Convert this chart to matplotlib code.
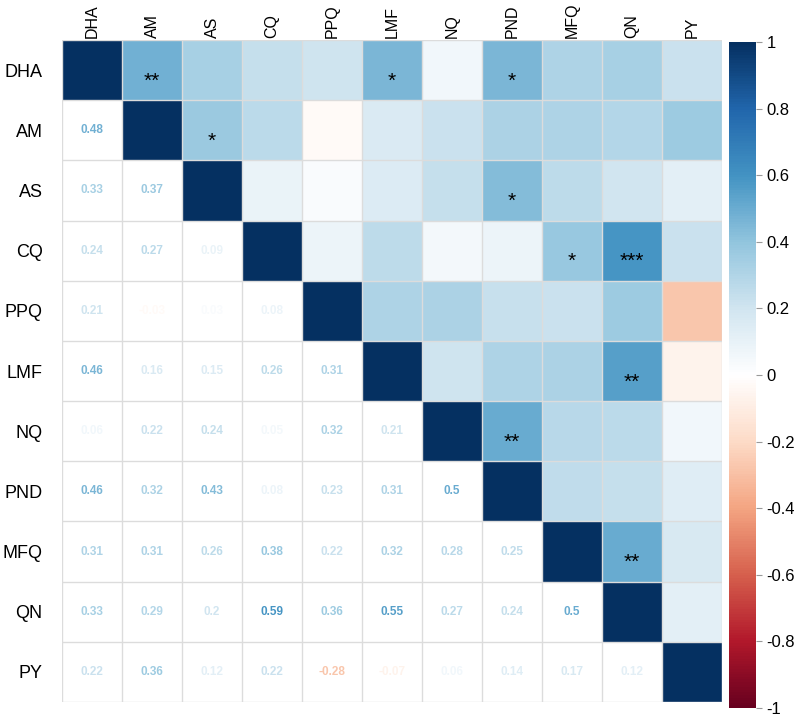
import numpy as np
import matplotlib.pyplot as plt
from matplotlib.colors import LinearSegmentedColormap
import matplotlib as mpl

plt.rcParams["font.family"] = ["Liberation Sans", "DejaVu Sans"]

labels = ["DHA", "AM", "AS", "CQ", "PPQ", "LMF", "NQ", "PND", "MFQ", "QN", "PY"]

# lower triangle, row by row (row i holds correlations with columns 0..i-1)
lower_rows = [
    [],
    [0.48],
    [0.33, 0.37],
    [0.24, 0.27, 0.09],
    [0.21, -0.03, 0.03, 0.08],
    [0.46, 0.16, 0.15, 0.26, 0.31],
    [0.06, 0.22, 0.24, 0.05, 0.32, 0.21],
    [0.46, 0.32, 0.43, 0.08, 0.23, 0.31, 0.5],
    [0.31, 0.31, 0.26, 0.38, 0.22, 0.32, 0.28, 0.25],
    [0.33, 0.29, 0.2, 0.59, 0.36, 0.55, 0.27, 0.24, 0.5],
    [0.22, 0.36, 0.12, 0.22, -0.28, -0.07, 0.06, 0.14, 0.17, 0.12],
]

# significance marks in the upper triangle: (row, col, stars)
stars = [
    ("DHA", "AM", "**"), ("DHA", "LMF", "*"), ("DHA", "PND", "*"),
    ("AM", "AS", "*"),
    ("AS", "PND", "*"),
    ("CQ", "MFQ", "*"), ("CQ", "QN", "***"),
    ("LMF", "QN", "**"),
    ("NQ", "PND", "**"),
    ("MFQ", "QN", "**"),
]

n = len(labels)
corr = np.eye(n)
for i, row in enumerate(lower_rows):
    for j, v in enumerate(row):
        corr[i, j] = v
        corr[j, i] = v

cmap = LinearSegmentedColormap.from_list("corrplot_rdbu", [
    "#67001F", "#B2182B", "#D6604D", "#F4A582", "#FDDBC7", "#FFFFFF",
    "#D1E5F0", "#92C5DE", "#4393C3", "#2166AC", "#053061"])
norm = mpl.colors.Normalize(vmin=-1, vmax=1)

fig = plt.figure(figsize=(8, 7.24), dpi=100)
ax = fig.add_axes([62 / 800, 1 - 702 / 724, 660 / 800, 662 / 724])

upper = np.ma.masked_where(np.tril(np.ones((n, n)), k=-1).astype(bool), corr)
ax.pcolormesh(np.arange(n + 1), np.arange(n + 1), upper, cmap=cmap, norm=norm)

# grid
for k in range(n + 1):
    ax.axhline(k, color="#dcdcdc", lw=1, zorder=1)
    ax.axvline(k, color="#dcdcdc", lw=1, zorder=1)

# numbers in lower triangle
for i, row in enumerate(lower_rows):
    for j, v in enumerate(row):
        ax.text(j + 0.5, i + 0.5, f"{v:g}", ha="center", va="center",
                fontsize=8.5, fontweight="bold", color=cmap(norm(v)), zorder=3)

# stars in upper triangle
for r, c, s in stars:
    i, j = labels.index(r), labels.index(c)
    ax.text(j + 0.5, i + 0.68, s, ha="center", va="center",
            fontsize=15, color="black", zorder=3)

ax.set_xlim(0, n)
ax.set_ylim(n, 0)
ax.set_xticks(np.arange(n) + 0.5)
ax.set_yticks(np.arange(n) + 0.5)
ax.set_xticklabels(labels, rotation=90, fontsize=11.5)
ax.set_yticklabels(labels, fontsize=13)
ax.xaxis.tick_top()
ax.tick_params(axis="x", length=0, pad=1.5)
ax.tick_params(axis="y", length=0, pad=14)
for sp in ax.spines.values():
    sp.set_visible(False)

# colour bar
cax = fig.add_axes([729 / 800, 1 - 708 / 724, 27 / 800, 666 / 724])
cb = mpl.colorbar.ColorbarBase(cax, cmap=cmap, norm=norm)
cb.set_ticks(np.round(np.arange(-1, 1.01, 0.2), 1))
cb.set_ticklabels(["-1", "-0.8", "-0.6", "-0.4", "-0.2", "0",
                   "0.2", "0.4", "0.6", "0.8", "1"])
cb.outline.set_visible(False)
cax.tick_params(labelsize=12, length=4, width=0.8, color="#999999")

fig.savefig("out.png", dpi=100)
